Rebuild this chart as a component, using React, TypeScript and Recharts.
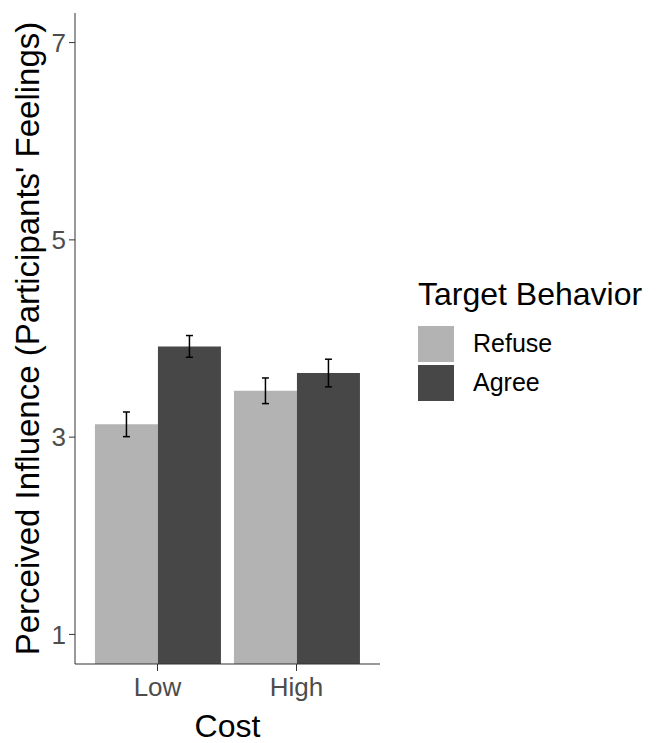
import React from 'react';
import { BarChart, Bar, XAxis, YAxis, ErrorBar, Label } from 'recharts';

const categories = ['Low', 'High'];
const refuse = [3.13, 3.47];
const agree = [3.92, 3.65];
const refuseErr = [0.125, 0.13];
const agreeErr = [0.11, 0.14];
const yTicks = [1, 3, 5, 7];

const data = categories.map((cost, i) => ({
  cost,
  refuse: refuse[i],
  agree: agree[i],
  refuseErr: refuseErr[i],
  agreeErr: agreeErr[i],
}));

const FONT = '"Liberation Sans", Arial, sans-serif';

const legendItems = [
  { label: 'Refuse', color: '#b3b3b3' },
  { label: 'Agree', color: '#474747' },
];

// legend drawn as plain html next to the plot
function TargetLegend() {
  return (
    <div style={{ position: 'absolute', left: 418, top: 276, fontFamily: FONT, color: '#000' }}>
      <div style={{ fontSize: 32, lineHeight: '36px', marginBottom: 12 }}>Target Behavior</div>
      {legendItems.map(item => (
        <div key={item.label} style={{ display: 'flex', alignItems: 'center', height: 39 }}>
          <div style={{ width: 36, height: 36, background: item.color }} />
          <span style={{ fontSize: 25, marginLeft: 19 }}>{item.label}</span>
        </div>
      ))}
    </div>
  );
}

export default function App() {
  return (
    <div style={{ position: 'absolute', left: 0, top: 0, width: 659, height: 743, background: '#fff' }}>
      <BarChart
        width={659}
        height={743}
        data={data}
        margin={{ top: 13, right: 279, bottom: 0, left: 0 }}
        barGap={0}
        barCategoryGap="5%"
      >
        <XAxis
          dataKey="cost"
          height={79}
          padding={{ left: 13, right: 14 }}
          stroke="#333"
          tickSize={7}
          tickMargin={7}
          tick={{ fill: '#4d4d4d', fontSize: 26, fontFamily: FONT }}
        >
          <Label
            value="Cost"
            position="insideBottom"
            offset={6}
            style={{ fill: '#000', fontSize: 32, fontFamily: FONT }}
          />
        </XAxis>
        <YAxis
          width={75}
          domain={[0.7, 7.3]}
          allowDataOverflow
          ticks={yTicks}
          stroke="#333"
          tickSize={6}
          tickMargin={3}
          tick={{ fill: '#4d4d4d', fontSize: 26, fontFamily: FONT }}
        >
          <Label
            value="Perceived Influence (Participants' Feelings)"
            angle={-90}
            position="center"
            dx={-10}
            style={{ fill: '#000', fontSize: 33, fontFamily: FONT, textAnchor: 'middle' }}
          />
        </YAxis>
        <Bar dataKey="refuse" fill="#b3b3b3" isAnimationActive={false}>
          <ErrorBar dataKey="refuseErr" width={3.5} stroke="#000" strokeWidth={1.5} />
        </Bar>
        <Bar dataKey="agree" fill="#474747" isAnimationActive={false}>
          <ErrorBar dataKey="agreeErr" width={3.5} stroke="#000" strokeWidth={1.5} />
        </Bar>
      </BarChart>
      <TargetLegend />
    </div>
  );
}
